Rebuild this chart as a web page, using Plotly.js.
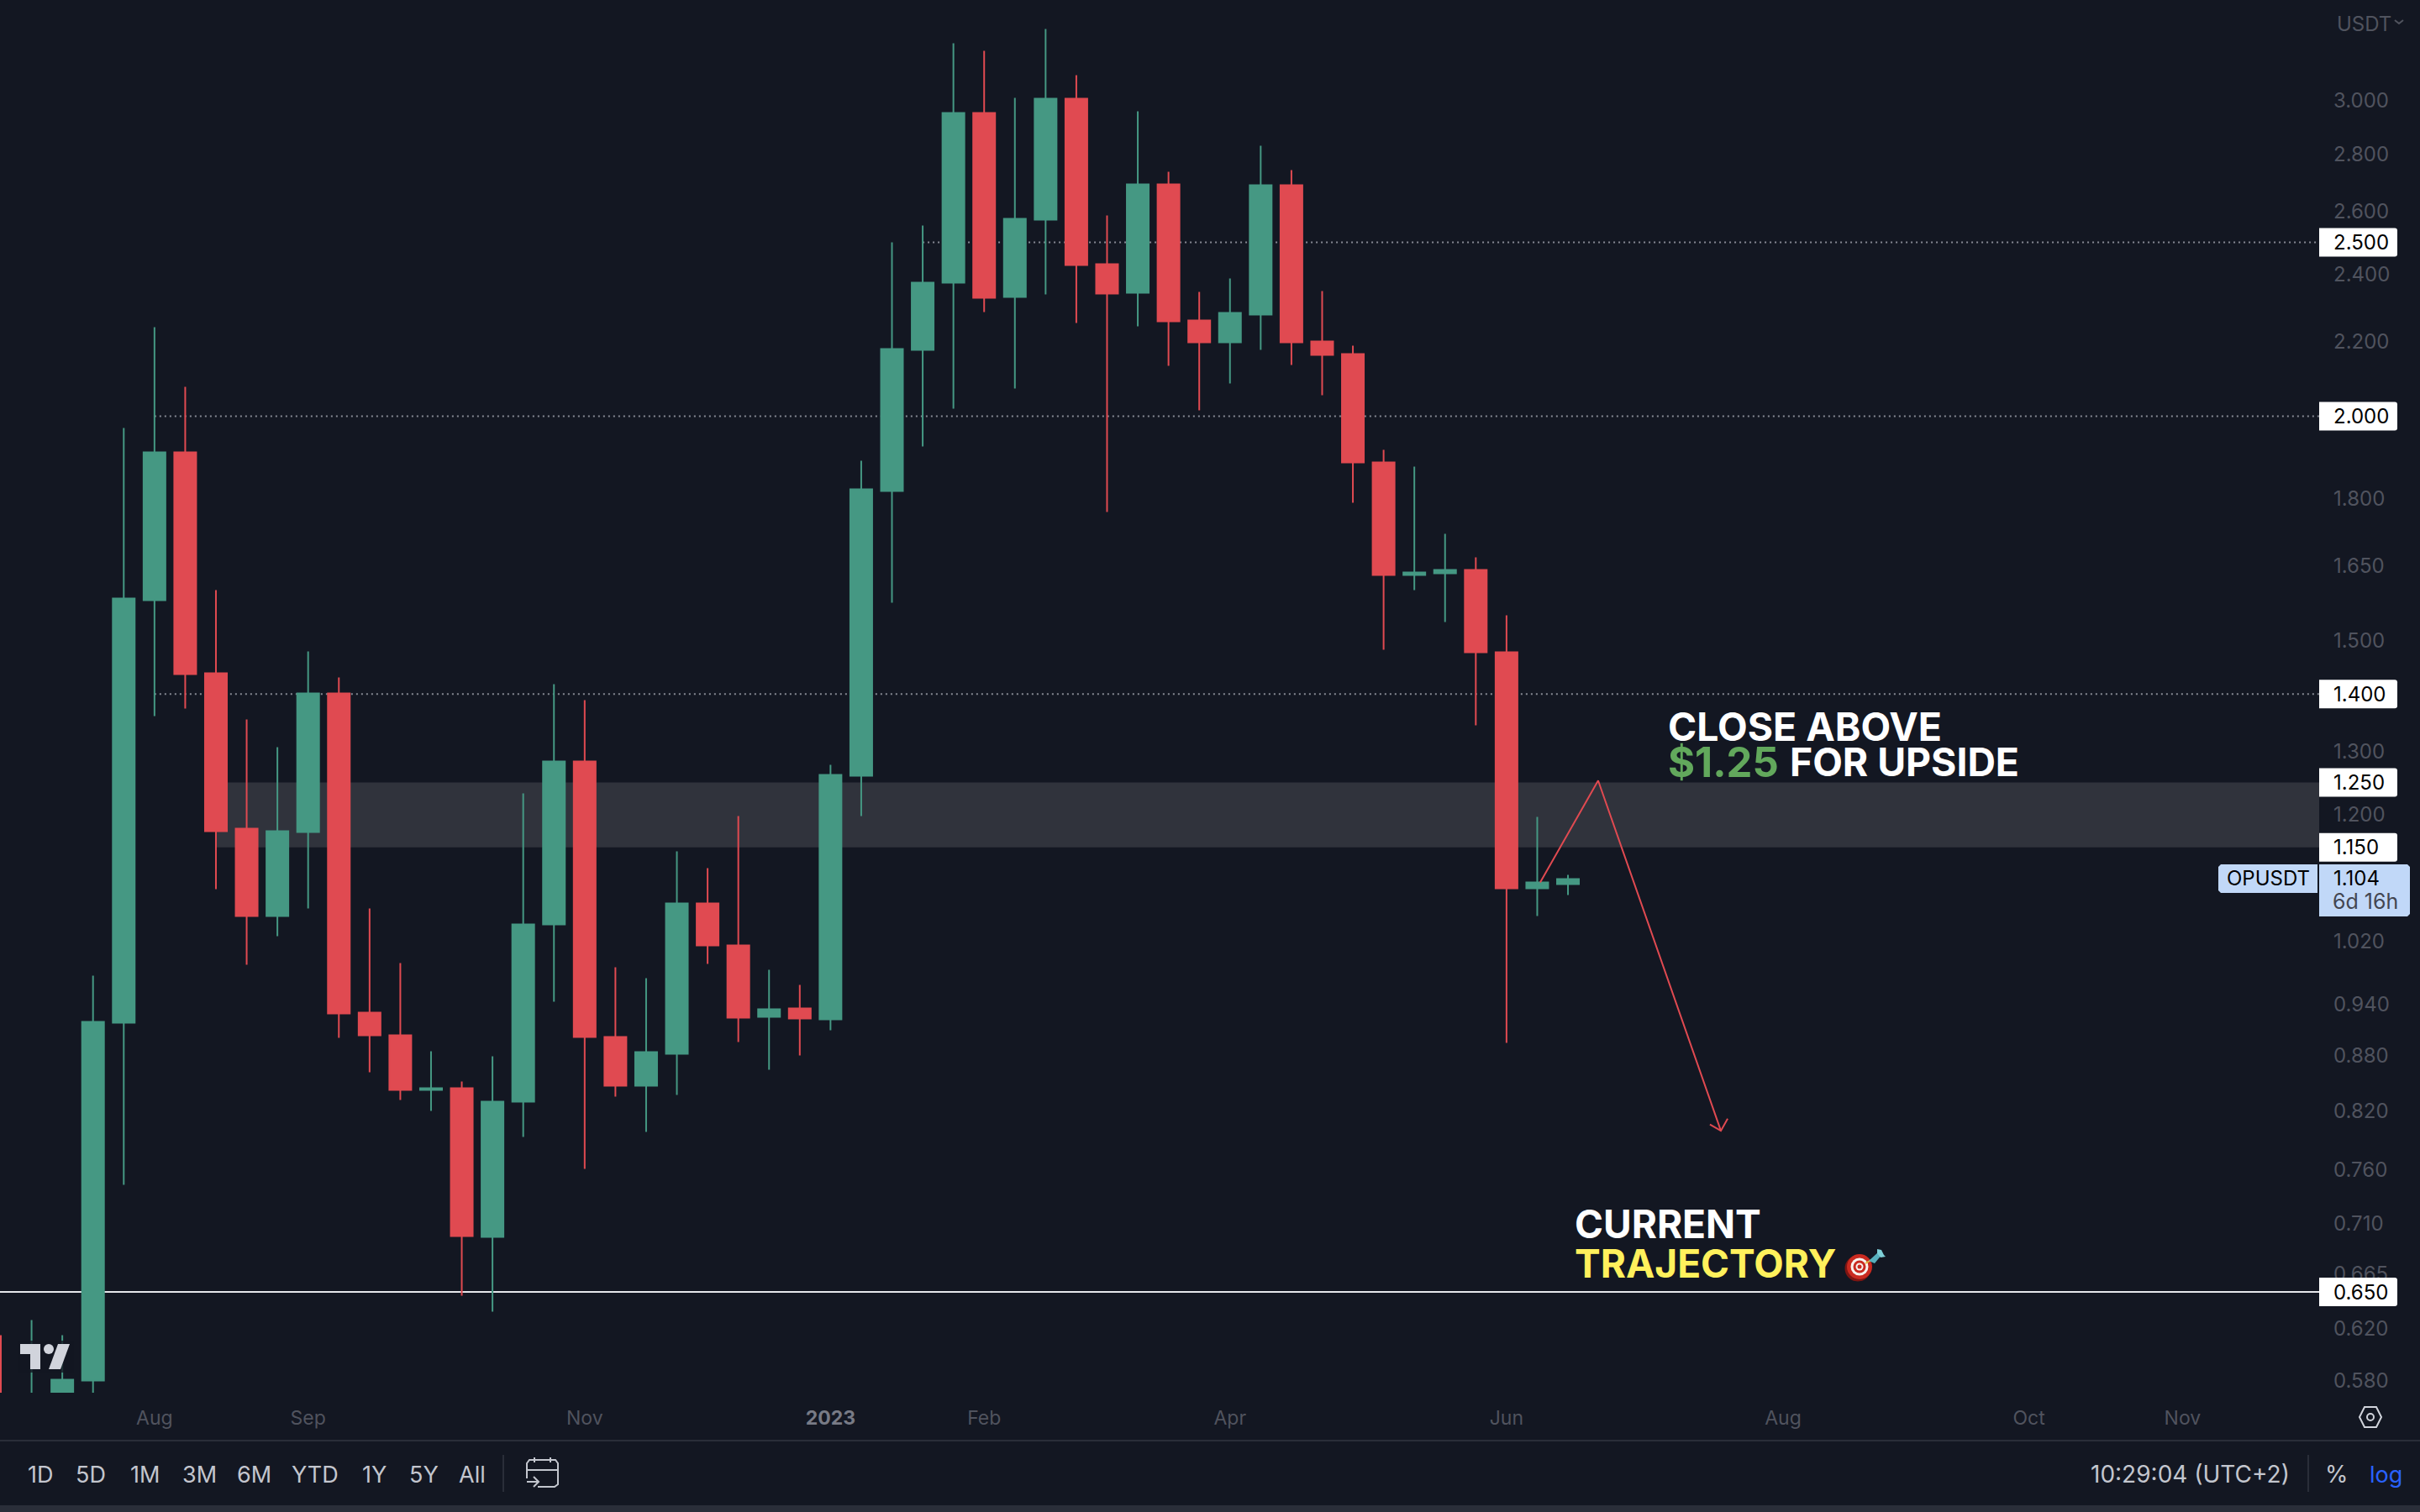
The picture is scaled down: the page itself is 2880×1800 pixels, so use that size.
<!DOCTYPE html>
<html>
<head>
<meta charset="utf-8">
<script src="https://cdn.plot.ly/plotly-3.0.1.min.js"></script>
<style>
html,body{margin:0;padding:0;background:#131722;}
#chart{width:2880px;height:1800px;}
</style>
</head>
<body>
<div id="chart"></div>
<script>
// weekly OPUSDT candles
var dates = ['2022-06-27','2022-07-04','2022-07-11','2022-07-18','2022-07-25','2022-08-01','2022-08-08','2022-08-15','2022-08-22','2022-08-29',
  '2022-09-05','2022-09-12','2022-09-19','2022-09-26','2022-10-03','2022-10-10','2022-10-17','2022-10-24','2022-10-31','2022-11-07',
  '2022-11-14','2022-11-21','2022-11-28','2022-12-05','2022-12-12','2022-12-19','2022-12-26','2023-01-02','2023-01-09','2023-01-16',
  '2023-01-23','2023-01-30','2023-02-06','2023-02-13','2023-02-20','2023-02-27','2023-03-06','2023-03-13','2023-03-20','2023-03-27',
  '2023-04-03','2023-04-10','2023-04-17','2023-04-24','2023-05-01','2023-05-08','2023-05-15','2023-05-22','2023-05-29','2023-06-05',
  '2023-06-12','2023-06-19'];
var opens = [.5575,.5516,.5684,.5802,.9183,1.5793,1.9092,1.4378,1.1781,1.0531,
  1.173,1.4011,.9303,.9036,.8425,.8443,.6977,.8298,1.0417,1.2841,
  .9017,.8471,.8824,1.0703,1.014,.9253,.9353,.9223,1.2607,1.817,
  2.1774,2.3735,2.9509,2.3304,2.5734,3.0054,2.4305,2.343,2.6925,2.2613,
  2.1986,2.2784,2.6896,2.201,2.1657,1.8847,1.6312,1.6348,1.6418,1.4773,
  1.0912,1.0971];
var highs = [.615,.6271,.615,.9754,1.9698,2.2419,2.0766,1.5999,1.3551,1.3078,
  1.4789,1.4301,1.0634,.9913,.8853,.8516,.8796,1.2325,1.4179,1.3891,
  .986,.9723,1.1441,1.1198,1.1972,.9828,.964,1.2785,1.8887,2.4997,
  2.5541,3.2271,3.196,3.0087,3.2868,3.0978,2.5873,2.9573,2.7364,2.3455,
  2.3863,2.8295,2.7423,2.348,2.1892,1.9154,1.8746,1.7196,1.6685,1.549,
  1.196,1.1101];
var lows = [.534,.5456,.5636,.5636,.7458,1.361,1.3742,1.09,.9892,1.0261,
  1.0634,.9007,.8618,.8316,.82,.6469,.6339,.7931,.9434,.7613,
  .8352,.7982,.837,.9902,.8958,.8646,.8805,.9094,1.1972,1.5742,
  1.9236,2.0193,2.2857,2.0722,2.338,2.254,1.7685,2.2443,2.1333,2.015,
  2.0856,2.1774,2.1356,2.0544,1.7897,1.4821,1.5999,1.5356,1.345,.8949,
  1.0531,1.0818];
var closes = [.5456,.5666,.5808,.9193,1.5827,1.9092,1.4363,1.1743,1.0531,1.1743,
  1.4011,.9293,.9036,.8425,.8443,.6984,.8298,1.0417,1.2841,.9017,
  .8471,.8843,1.0703,1.014,.9243,.9343,.9233,1.2621,1.8209,2.1798,
  2.3735,2.9509,2.3279,2.5762,3.0054,2.4279,2.3405,2.6925,2.2588,2.1986,
  2.2833,2.6896,2.1986,2.1634,1.8847,1.6312,1.6365,1.6418,1.4773,1.0912,
  1.0994,1.1042];

var yTicks = [3.0,2.8,2.6,2.4,2.2,1.8,1.65,1.5,1.3,1.2,1.02,.94,.88,.82,.76,.71,.665,.62,.58];
var xTicks = ['2022-08-01','2022-09-05','2022-11-07','2023-01-02','2023-02-06','2023-04-03','2023-06-05','2023-08-07','2023-10-02','2023-11-06'];
var xLabels = ['Aug','Sep','Nov','<span style="font-weight:700;color:#787b86">2023</span>','Feb','Apr','Jun','Aug','Oct','Nov'];

// drawn projection path
var arrowX = ['2023-06-12 16:00','2023-06-25 21:00','2023-07-23 20:00'];
var arrowY = [1.0994,1.253,.7994];
var headX = ['2023-07-21 08:00','2023-07-23 20:00','2023-07-25 09:00'];
var headY = [.806,.7994,.812];

var levels = [2.5,2.0,1.4];
var levelStart = ['2023-01-23','2022-08-01','2022-08-01'];
var zoneTop = 1.25, zoneBottom = 1.15, zoneStart = '2022-08-15';
var supportLevel = .65;
var tags = ['2.500','2.000','1.400','1.250','1.150','0.650'];

var bg = '#131722', up = '#459883', down = '#e04a51', muted = '#50535e', tool = '#c3c6ce';
var rangeEnd = '2023-12-07 03:00';
var plotW = 2760, plotH = 1658;

var px = function(x){ return x/plotW; };
var py = function(y){ return 1 - y/plotH; };
var poly = function(pts, closed){
  var s = pts.map(function(p,i){ return (i ? 'L' : 'M') + px(p[0]) + ',' + py(p[1]); }).join(' ');
  return closed ? s + ' Z' : s;
};

var shapes = [];
function paperPath(pts, fill, line, width, closed){
  shapes.push({type:'path', xref:'paper', yref:'paper', path:poly(pts, closed), fillcolor:fill || 'rgba(0,0,0,0)',
    line:{color:line || 'rgba(0,0,0,0)', width:line ? (width || 2) : 0}, layer:'above'});
}
function paperRect(x0,y0,x1,y1,fill){
  shapes.push({type:'rect', xref:'paper', yref:'paper', x0:px(x0), x1:px(x1), y0:py(y0), y1:py(y1), fillcolor:fill, line:{width:0}, layer:'above'});
}
function paperCircle(cx,cy,r,fill,line,lw){
  shapes.push({type:'circle', xref:'paper', yref:'paper', x0:px(cx-r), x1:px(cx+r), y0:py(cy-r), y1:py(cy+r), fillcolor:fill,
    line:{color:line || fill, width:lw || 0}, layer:'above'});
}

// levels and zone, below the candles
shapes.push({type:'rect', xref:'x', yref:'y', x0:zoneStart, x1:rangeEnd, y0:zoneBottom, y1:zoneTop, fillcolor:'#30333c', line:{width:0}, layer:'below'});
levels.forEach(function(l,i){
  shapes.push({type:'line', xref:'x', yref:'y', x0:levelStart[i], x1:rangeEnd, y0:l, y1:l, line:{color:'#878a94', width:2, dash:'2px,4px'}, layer:'below'});
});
shapes.push({type:'line', xref:'paper', yref:'y', x0:0, x1:1, y0:supportLevel, y1:supportLevel, line:{color:'#e6e7eb', width:2}, layer:'below'});

var annotations = [];
function textAt(x,y,t,size,color,anchor,weight){
  annotations.push({xref:'paper', yref:'paper', x:px(x), y:py(y), text:t, showarrow:false, xanchor:anchor || 'left', yanchor:'middle',
    font:{family:'Inter, sans-serif', size:size, color:color, weight:weight || 400}, borderpad:0});
}

// white price tags
tags.forEach(function(t){
  var v = parseFloat(t);
  shapes.push({type:'path', xref:'paper', yref:'y', xsizemode:'pixel', ysizemode:'pixel', xanchor:1, yanchor:v,
    path:'M0,-17 L90,-17 Q93,-17 93,-14 L93,14 Q93,17 90,17 L0,17 Z', fillcolor:'#ffffff', line:{width:0}, layer:'above'});
  annotations.push({xref:'paper', yref:'y', x:px(2776), y:Math.log10(v), text:t, showarrow:false, xanchor:'left', yanchor:'middle',
    font:{family:'Inter, sans-serif', size:24, color:'#000000'}, borderpad:0});
});

// current price tag
paperPath([[2643,1029],[2758,1029],[2758,1063],[2643,1063],[2640,1060],[2640,1032]], '#c1d8f8', null, 0, true);
paperPath([[2760,1029],[2865,1029],[2868,1032],[2868,1088],[2865,1091],[2760,1091]], '#c1d8f8', null, 0, true);
textAt(2699,1045.5,'OPUSDT',24,'#000000','center');
textAt(2776,1045.5,'1.104',24,'#000000');
textAt(2775,1073,'6d 16h',25,'#434651');

// callouts
textAt(1984,865,'CLOSE ABOVE',46.3,'#ffffff','left',700);
textAt(1984,907,'$1.25',49,'#62a85c','left',700);
textAt(2129,907,'FOR UPSIDE',46.3,'#ffffff','left',700);
textAt(1873,1457,'CURRENT',46,'#ffffff','left',700);
textAt(1873,1504,'TRAJECTORY',46,'#fff15c','left',700);

// target with dart
paperCircle(2211,1510,15.5,'#7e1512');
paperCircle(2213,1508,15,'#c92a20');
paperCircle(2213,1508,10.5,'#f7f2ee');
paperCircle(2213,1508,7.5,'#c92a20');
paperCircle(2213,1508,4.5,'#f7f2ee');
paperCircle(2213,1508,2.5,'#c92a20');
paperPath([[2220,1504],[2232,1497]], null, '#e2b93b', 2);
paperPath([[2224,1501],[2236,1490],[2240,1493],[2231,1504]], '#57b0bd', null, 0, true);
paperPath([[2234,1492],[2234,1487],[2239,1488],[2242,1494],[2244,1496],[2238,1497]], '#7fd0d8', null, 0, true);

// tradingview logo
paperRect(22,1596,88,1634,'rgba(19,23,34,0.8)');
paperPath([[24,1600],[48,1600],[48,1630],[36,1630],[36,1612],[24,1612]], '#d1d4dc', null, 0, true);
paperCircle(58,1606,6,'#d1d4dc');
paperPath([[69,1600],[83,1600],[72,1630],[58,1630]], '#d1d4dc', null, 0, true);

// price scale header
textAt(2780,28,'USDT',24,muted);
paperPath([[2850,24],[2855,28],[2860,24]], null, muted, 2);

// settings hexagon
paperPath([[2814,1675],[2828,1675],[2834,1687],[2828,1699],[2814,1699],[2808,1687]], null, '#d1d4dc', 2, true);
paperCircle(2821,1687,4,bg,'#d1d4dc',2);

// bottom toolbar
paperRect(0,1714,2880,1716,'#2a2e39');
paperRect(0,1792,2880,1800,'#2a2e39');
var ranges = ['1D','5D','1M','3M','6M','YTD','1Y','5Y','All'];
var rangeX = [47.5,108,172,237,302.5,375,445,504,562];
ranges.forEach(function(r,i){ textAt(rangeX[i],1755,r,27,tool,'center'); });
paperRect(598,1732,600,1776,'#2a2e39');
paperPath([[664,1750],[664,1767],[660,1770],[640,1770]], null, tool, 2);
paperPath([[627,1760],[627,1742],[630,1738],[661,1738],[664,1742],[664,1750],[627,1750]], null, tool, 2);
paperPath([[636,1735],[636,1741]], null, tool, 2);
paperPath([[655,1735],[655,1741]], null, tool, 2);
paperPath([[627,1764],[641,1764]], null, tool, 2);
paperPath([[635,1758],[641,1764],[635,1770]], null, tool, 2);
textAt(2726,1755,'10:29:04 (UTC+2)',28,tool,'right');
paperRect(2746,1732,2748,1776,'#2a2e39');
textAt(2781,1755,'%',28,tool,'center');
textAt(2839,1755,'log',27,'#2962ff','center');

var traces = [{
  type:'candlestick', x:dates, open:opens, high:highs, low:lows, close:closes,
  increasing:{line:{color:up, width:2}, fillcolor:up},
  decreasing:{line:{color:down, width:2}, fillcolor:down},
  whiskerwidth:0, hoverinfo:'skip', showlegend:false
},{
  type:'scatter', mode:'lines', x:arrowX, y:arrowY, line:{color:down, width:2}, hoverinfo:'skip', showlegend:false
},{
  type:'scatter', mode:'lines', x:headX, y:headY, line:{color:down, width:2}, hoverinfo:'skip', showlegend:false
}];

var layout = {
  width:2880, height:1800,
  margin:{l:0, r:120, t:0, b:142, pad:0},
  paper_bgcolor:bg, plot_bgcolor:bg,
  showlegend:false, boxgap:.289, boxgroupgap:0, dragmode:false,
  xaxis:{type:'date', range:['2022-06-26 19:24',rangeEnd], tickmode:'array', tickvals:xTicks, ticktext:xLabels,
    showgrid:false, zeroline:false, showline:false, ticks:'', ticklabelstandoff:14, tickangle:0,
    rangeslider:{visible:false}, tickfont:{family:'Inter, sans-serif', size:23, color:muted}},
  yaxis:{type:'log', side:'right', range:[Math.log10(.5712),Math.log10(3.4116)], tickmode:'array', tickvals:yTicks,
    ticktext:yTicks.map(function(v){ return v.toFixed(3); }),
    showgrid:false, zeroline:false, showline:false, ticks:'', ticklabelstandoff:16,
    tickfont:{family:'Inter, sans-serif', size:24, color:muted}},
  shapes:shapes, annotations:annotations
};

Plotly.newPlot('chart', traces, layout, {displayModeBar:false, responsive:false});
</script>
</body>
</html>
